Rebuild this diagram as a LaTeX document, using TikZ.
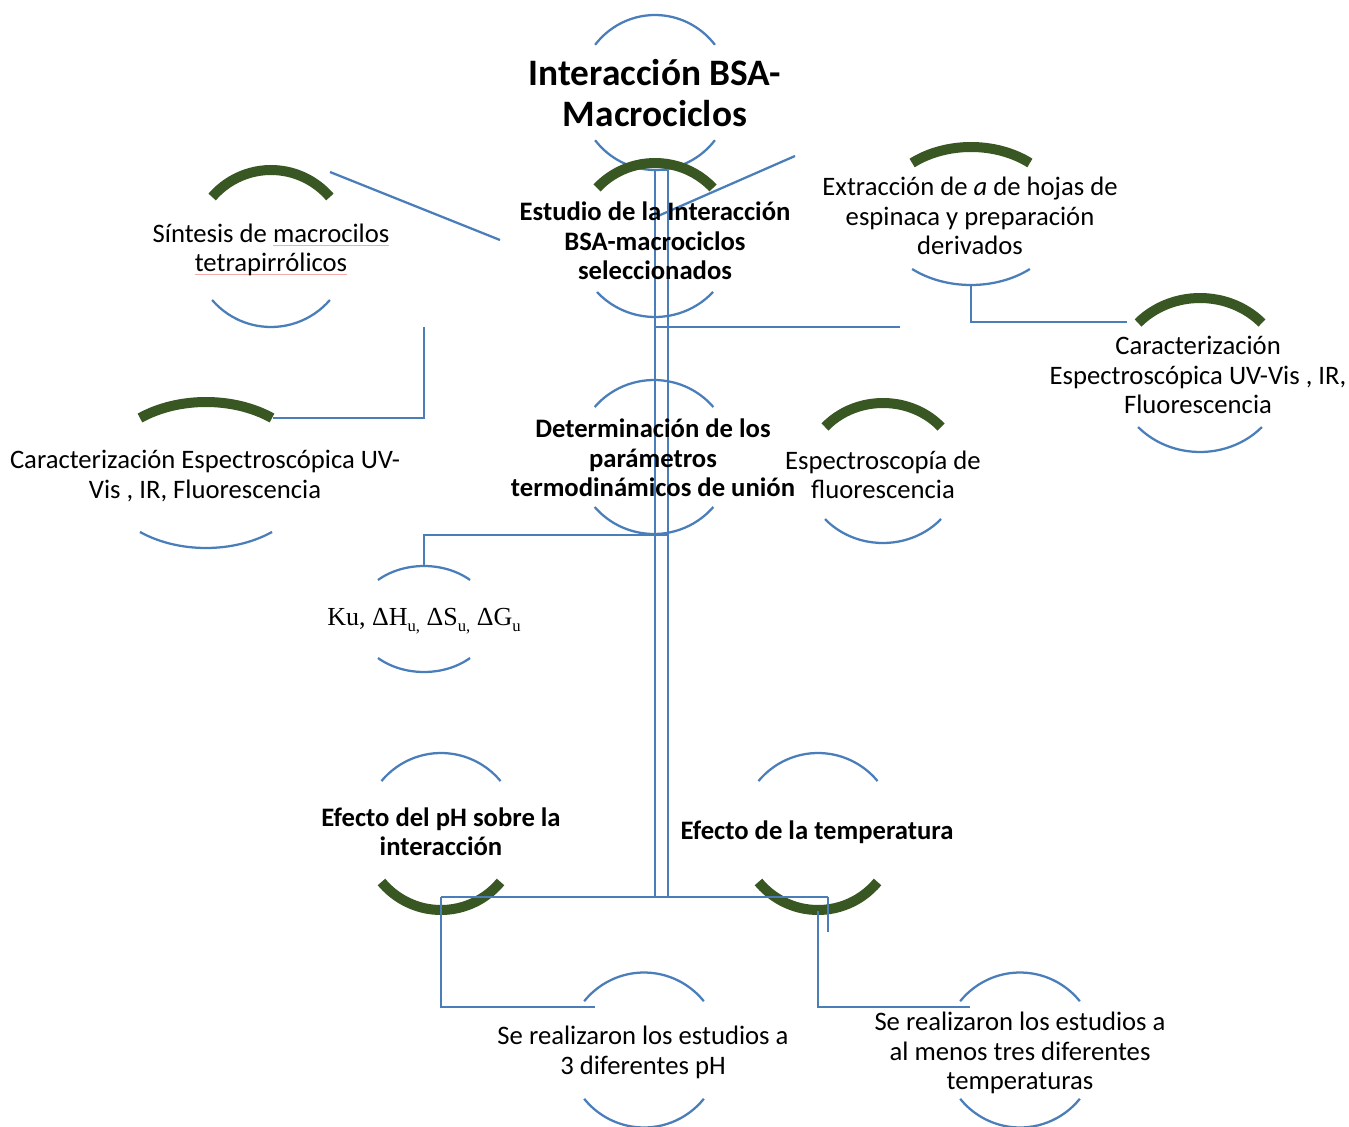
\documentclass[tikz,border=0pt]{standalone}
\usepackage{fontspec}
\setmainfont{Carlito}
\newfontfamily\timesf{Liberation Serif}
\definecolor{lblue}{RGB}{74,126,187}
\definecolor{dgreen}{RGB}{56,87,34}
\definecolor{spellred}{RGB}{245,170,170}
\newsavebox\splbox
\newcommand\spl[1]{\sbox\splbox{#1}\rlap{\color{spellred}\rule[-2.6pt]{\wd\splbox}{0.6pt}}\usebox\splbox}
\newcommand\lowsub[1]{\raisebox{-4.5pt}{\fontsize{12.5}{14}\selectfont #1}}
% top / bottom arcs: cx, cy, rx, ry, half-angle, style
\newcommand\arcT[6]{\draw[#6] ({#1+#3*cos(270-#5)},{#2+#4*sin(270-#5)}) arc[start angle=270-#5,end angle=270+#5,x radius=#3,y radius=#4];}
\newcommand\arcB[6]{\draw[#6] ({#1+#3*cos(90-#5)},{#2+#4*sin(90-#5)}) arc[start angle=90-#5,end angle=90+#5,x radius=#3,y radius=#4];}
\begin{document}
\begin{tikzpicture}[x=0.75pt,y=-0.75pt,
  bl/.style={draw=lblue,line width=1.7pt},
  gr/.style={draw=dgreen,line width=7.5pt},
  conn/.style={draw=lblue,line width=1.7pt},
  txt/.style={inner sep=0pt,align=center,font=\fontsize{20}{22}\selectfont},
  btxt/.style={inner sep=0pt,align=center,font=\fontsize{20}{22}\selectfont\bfseries},
  ttl/.style={inner sep=0pt,align=center,font=\fontsize{28}{30.75}\selectfont\bfseries}]
\clip (0,0) rectangle (1349,1127);
\fill[white] (0,0) rectangle (1349,1127);

% ---- arcs of the nodes
\arcT{655}{92.5}{76}{77.5}{52}{bl}   \arcB{655}{92.5}{76}{77.5}{52}{bl}
\arcT{655}{240}{78.7}{77}{47.5}{gr}  \arcB{655}{240}{78.7}{77}{47.5}{bl}
\arcT{271}{248.5}{78}{78.5}{49}{gr}  \arcB{271}{248.5}{78}{78.5}{49}{bl}
\arcT{206}{475}{105.6}{73}{38.7}{gr} \arcB{206}{475}{105.6}{73}{38.7}{bl}
\arcT{971}{216}{92}{69}{39.8}{gr}    \arcB{971}{216}{92}{69}{39.8}{bl}
\arcT{1200}{375}{84}{77}{47.5}{gr}   \arcB{1200}{375}{84}{77}{47.5}{bl}
\arcT{883}{473}{77}{70}{48.9}{gr}    \arcB{883}{473}{77}{70}{48.9}{bl}
\arcT{654}{457}{78}{77}{49.5}{bl}    \arcB{654}{457}{78}{77}{49.5}{bl}
\arcT{424}{619}{68}{53}{42.6}{bl}    \arcB{424}{619}{68}{53}{42.6}{bl}
\arcT{441}{831.5}{77.7}{78.5}{50}{bl} \arcB{441}{831.5}{77.7}{78.5}{50}{gr}
\arcT{818}{831.5}{77.7}{78.5}{50}{bl} \arcB{818}{831.5}{77.7}{78.5}{50}{gr}
\arcT{644}{1050}{77}{77.5}{51}{bl}   \arcB{644}{1050}{77}{77.5}{51}{bl}
\arcT{1020}{1050}{77}{77.5}{51}{bl}  \arcB{1020}{1050}{77}{77.5}{51}{bl}

% ---- connector end points
\coordinate (vtopL) at (655,170);  \coordinate (vtopR) at (668,170);
\coordinate (vbotL) at (655,897);  \coordinate (vbotR) at (668,897);
\coordinate (h1a) at (655,327);    \coordinate (h1b) at (900,327);
\coordinate (sa) at (330,172);     \coordinate (sb) at (500,240);
\coordinate (ea) at (795,156);     \coordinate (eb) at (658,216);
\coordinate (sc1) at (424,327);    \coordinate (CLend) at (273,418);
\coordinate (Xbot) at (971,286);   \coordinate (Xr) at (1127,322);
\coordinate (Dj) at (668,535);     \coordinate (Ktop) at (424,566);
\coordinate (bjl) at (441,897);    \coordinate (bjr) at (828,897);
\coordinate (brs) at (828,932);
\coordinate (SPl) at (595,1007);
\coordinate (Tmb) at (818,911);    \coordinate (STl) at (970,1007);

% ---- connectors
\draw[conn] (vbotL) -- (vtopL) -- (vtopR) -- (vbotR);
\draw[conn] (h1a) -- (h1b);
\draw[conn] (sa) -- (sb);
\draw[conn] (ea) -- (eb);
\draw[conn] (sc1) |- (CLend);
\draw[conn] (Xbot) |- (Xr);
\draw[conn] (Dj) -| (Ktop);
\draw[conn] (bjl) -- (bjr);
\draw[conn] (bjl) |- (SPl);
\draw[conn] (bjr) -- (brs);
\draw[conn] (Tmb) |- (STl);

% ---- texts
\node[ttl]  (T)  at (655,93)   {Interacción BSA-\\Macrociclos};
\node[btxt] (E)  at (655,241)  {Estudio de la Interacción\\BSA-macrociclos\\seleccionados};
\node[txt]  (S)  at (271,250)  {Síntesis de \spl{macrocilos}\\\spl{tetrapirrólicos}};
\node[txt]  (CL) at (205,476)  {Caracterización Espectroscópica UV-\\Vis , IR, Fluorescencia};
\node[txt]  (X)  at (970,216)  {Extracción de \textit{a} de hojas de\\espinaca y preparación\\derivados};
\node[txt]  (CR) at (1198,375) {Caracterización\\Espectroscópica UV-Vis , IR,\\Fluorescencia};
\node[txt]  (F)  at (883,475)  {Espectroscopía de\\fluorescencia};
\node[btxt] (D)  at (653,458)  {Determinación de los\\parámetros\\termodinámicos de unión};
\node[inner sep=0pt,font=\timesf\fontsize{19.5}{22}\selectfont] (K) at (424,621)
  {Ku, ΔH\lowsub{u,} ΔS\lowsub{u,} ΔG\lowsub{u}};
\node[btxt] (P)  at (441,831.5){Efecto del pH sobre la\\interacción};
\node[btxt] (Tm) at (817,832)  {Efecto de la temperatura};
\node[txt]  (SP) at (643,1052.5){Se realizaron los estudios a\\3 diferentes pH};
\node[txt]  (ST) at (1020,1053){Se realizaron los estudios a\\al menos tres diferentes\\temperaturas};
\end{tikzpicture}
\end{document}
